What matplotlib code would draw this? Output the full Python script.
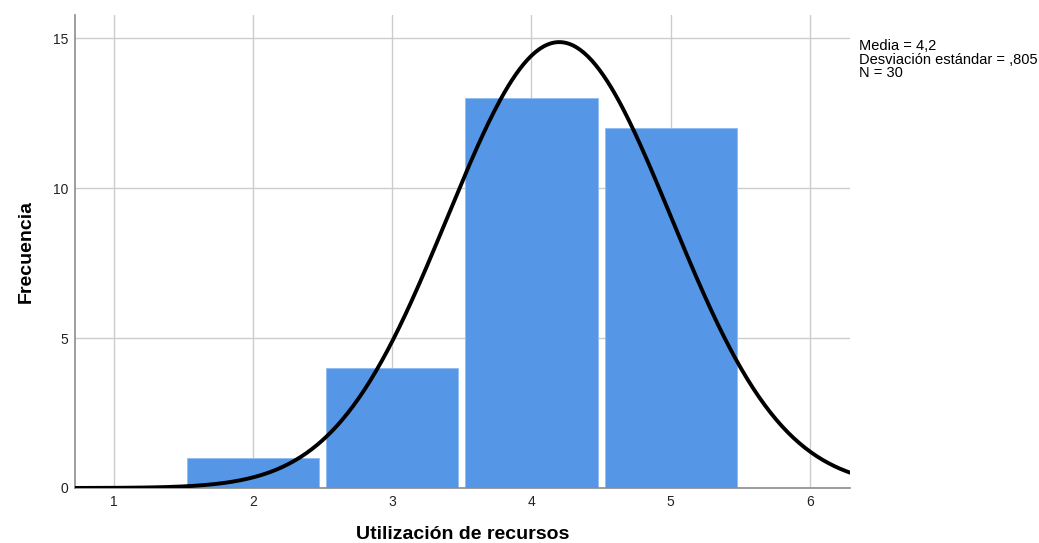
"""Histogram of resource use with fitted normal curve."""

import matplotlib
matplotlib.use("Agg")
import matplotlib.pyplot as plt
import numpy as np

# data
categories = [2, 3, 4, 5]
frequencies = [1, 4, 13, 12]
x_ticks = [1, 2, 3, 4, 5, 6]
y_ticks = [0, 5, 10, 15]
mean_value = 4.2
std_value = 0.805
n_value = 30

BAR_COLOR = "#5596e6"
GRID_COLOR = "#cccccc"
SPINE_COLOR = "#8c8c8c"

plt.rcParams["font.family"] = ["Liberation Sans", "DejaVu Sans"]

fig = plt.figure(figsize=(10.39, 5.43), dpi=100)
ax = fig.add_axes([0.0722, 0.1013, 0.746, 0.871])

ax.set_axisbelow(True)
ax.grid(True, color=GRID_COLOR, linewidth=1.0)
ax.bar(categories, frequencies, width=0.95, color=BAR_COLOR,
       edgecolor="#8fbcf2", linewidth=0.6, zorder=2)

x_min, x_max = 0.72, 6.29
xs = np.linspace(x_min, x_max, 400)
curve = n_value * 1.0 / (std_value * np.sqrt(2 * np.pi)) * np.exp(-0.5 * ((xs - mean_value) / std_value) ** 2)
ax.plot(xs, curve, color="black", linewidth=2.8, zorder=3, solid_capstyle="round")

ax.set_xlim(x_min, x_max)
ax.set_ylim(0, 15.77)
ax.set_xticks(x_ticks)
ax.set_yticks(y_ticks)
ax.tick_params(length=0, labelsize=10, colors="#222222", pad=5)
for side in ["top", "right"]:
    ax.spines[side].set_visible(False)
for side in ["left", "bottom"]:
    ax.spines[side].set_color(SPINE_COLOR)
    ax.spines[side].set_linewidth(1.2)

ax.set_xlabel("Utilización de recursos", fontsize=14, fontweight="bold", labelpad=12)
ax.set_ylabel("Frecuencia", fontsize=14, fontweight="bold", labelpad=13)

fig.text(0.827, 0.928,
         f"Media = {mean_value:.1f}".replace(".", ",") + "\n"
         + "Desviación estándar = ,805\n"
         + f"N = {n_value}",
         fontsize=10.5, va="top", ha="left", linespacing=0.95)

fig.savefig("out.png", dpi=100, facecolor="white")
